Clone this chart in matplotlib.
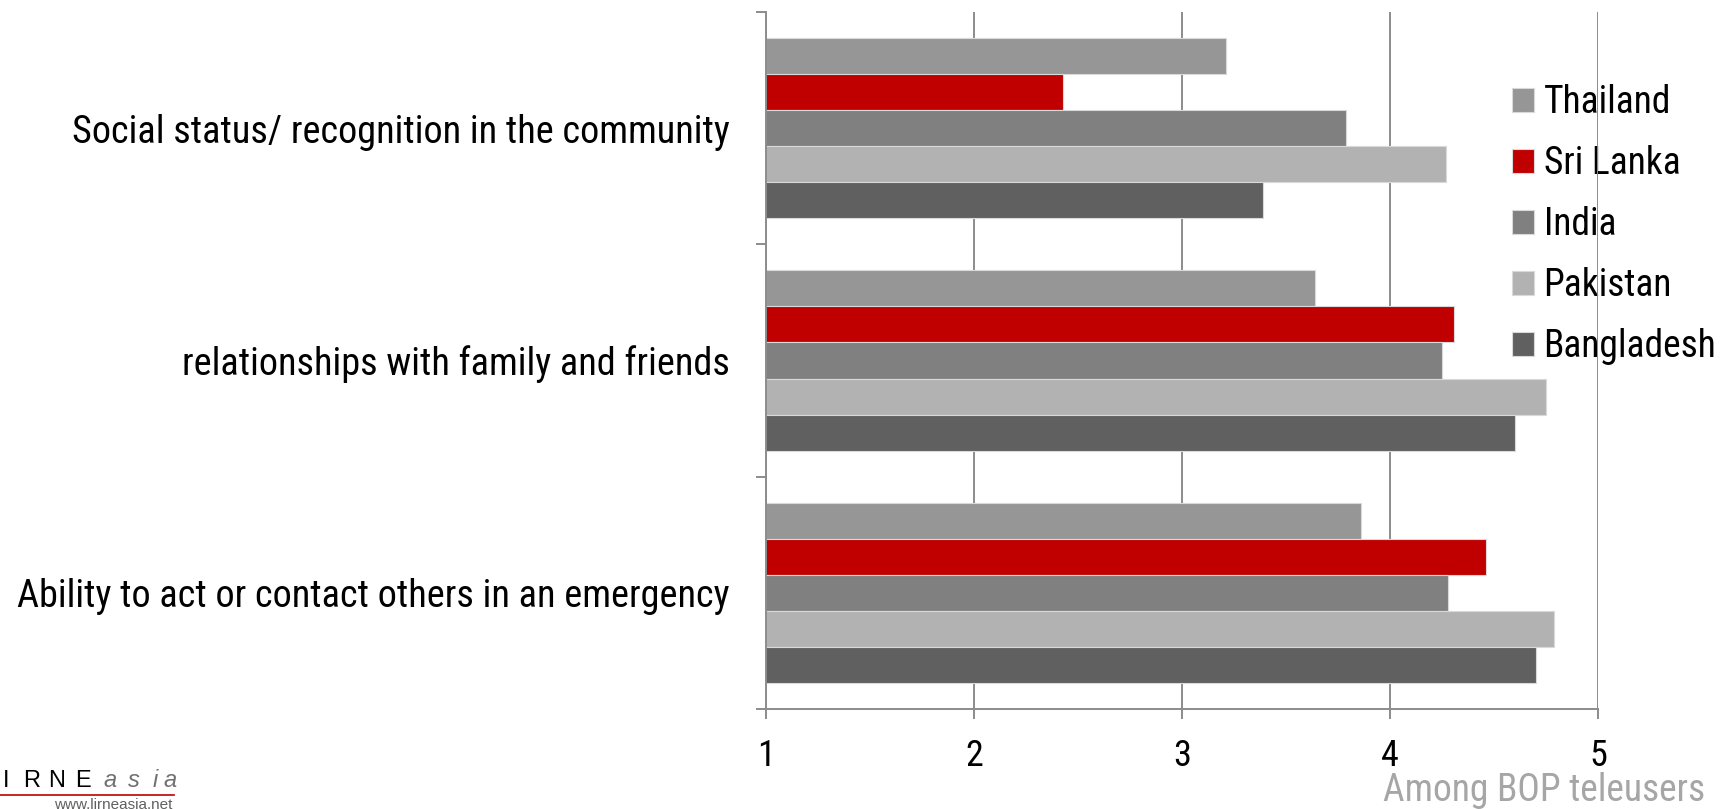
import numpy as np
import matplotlib.pyplot as plt
import matplotlib.font_manager as fm

# chart data
categories = ['Social status/ recognition in the community',
              'relationships with family and friends',
              'Ability to act or contact others in an emergency']
countries = ['Thailand', 'Sri Lanka', 'India', 'Pakistan', 'Bangladesh']
thailand = [3.21, 3.64, 3.86]
sri_lanka = [2.43, 4.31, 4.46]
india = [3.79, 4.25, 4.28]
pakistan = [4.27, 4.75, 4.79]
bangladesh = [3.39, 4.60, 4.70]
x_ticks = [1, 2, 3, 4, 5]

series = [thailand, sri_lanka, india, pakistan, bangladesh]
colors = ['#969696', '#c00000', '#808080', '#b2b2b2', '#606060']

# pick a narrow font if there is one
names = {f.name for f in fm.fontManager.ttflist}
font = 'Liberation Sans'
for cand in ['Liberation Sans Narrow', 'Roboto Condensed', 'Open Sans Condensed']:
    if cand in names:
        font = cand
        break
plt.rcParams['font.family'] = [font, 'DejaVu Sans']

fig = plt.figure(figsize=(17.35, 8.09), dpi=100)
ax = fig.add_axes([766 / 1735, 1 - 709 / 809, 832 / 1735, 697 / 809])

pos = np.arange(len(categories))
h = 0.155
for i, vals in enumerate(series):
    ax.barh(pos + (i - 2) * h, vals, height=h, color=colors[i],
            edgecolor='#d9d9d9', linewidth=0.8, label=countries[i], zorder=2)

ax.set_xlim(1, 5)
ax.set_ylim(2.5, -0.5)
ax.set_xticks(x_ticks)
ax.set_xticklabels([str(t) for t in x_ticks], fontsize=26)
ax.set_yticks(pos)
ax.set_yticklabels(categories, fontsize=27.5)
ax.set_yticks(np.arange(-0.5, 3.0, 1.0), minor=True)

gray = '#8c8c8c'
ax.tick_params(axis='y', which='major', length=0, pad=26)
ax.tick_params(axis='y', which='minor', length=7, width=1.4, color=gray, direction='out')
ax.tick_params(axis='x', length=7, width=1.4, color=gray, pad=14)

ax.set_axisbelow(True)
ax.grid(axis='x', color=gray, linewidth=1.4)
for side in ['top', 'right']:
    ax.spines[side].set_visible(False)
for side in ['left', 'bottom']:
    ax.spines[side].set_color(gray)
    ax.spines[side].set_linewidth(1.4)

leg = ax.legend(loc='upper left', bbox_to_anchor=(1512 / 1735, 1 - 84 / 809),
                bbox_transform=fig.transFigure, frameon=False, fontsize=27,
                handlelength=0.59, handleheight=0.59, handletextpad=0.25,
                labelspacing=0.64, borderpad=0, borderaxespad=0)
leg.set_zorder(0.3)

# footer note
fig.text(1705 / 1735, 1 - 801 / 809, 'Among BOP teleusers', color='#a6a6a6',
         fontsize=27, ha='right', va='baseline')

# logo, bottom left (letter by letter, it is widely spaced)
logo_letters = ['I', 'R', 'N', 'E', 'a', 's', 'i', 'a']
logo_x = [3, 23, 48, 75, 103, 128, 153, 163]
for ch, lx in zip(logo_letters, logo_x):
    italic = ch.islower()
    fig.text(lx / 1735, 1 - 787 / 809, ch, fontsize=17, family='Liberation Sans',
             color='#707070' if italic else 'black',
             style='italic' if italic else 'normal', ha='left', va='baseline')
fig.add_artist(plt.Line2D([0, 174 / 1735], [1 - 795 / 809] * 2, color='#c00000', linewidth=1.2))
fig.text(172 / 1735, 1 - 798 / 809, 'www.lirneasia.net', color='#606060', fontsize=11,
         family='Liberation Sans', ha='right', va='top')

fig.savefig('out.png', dpi=100)
